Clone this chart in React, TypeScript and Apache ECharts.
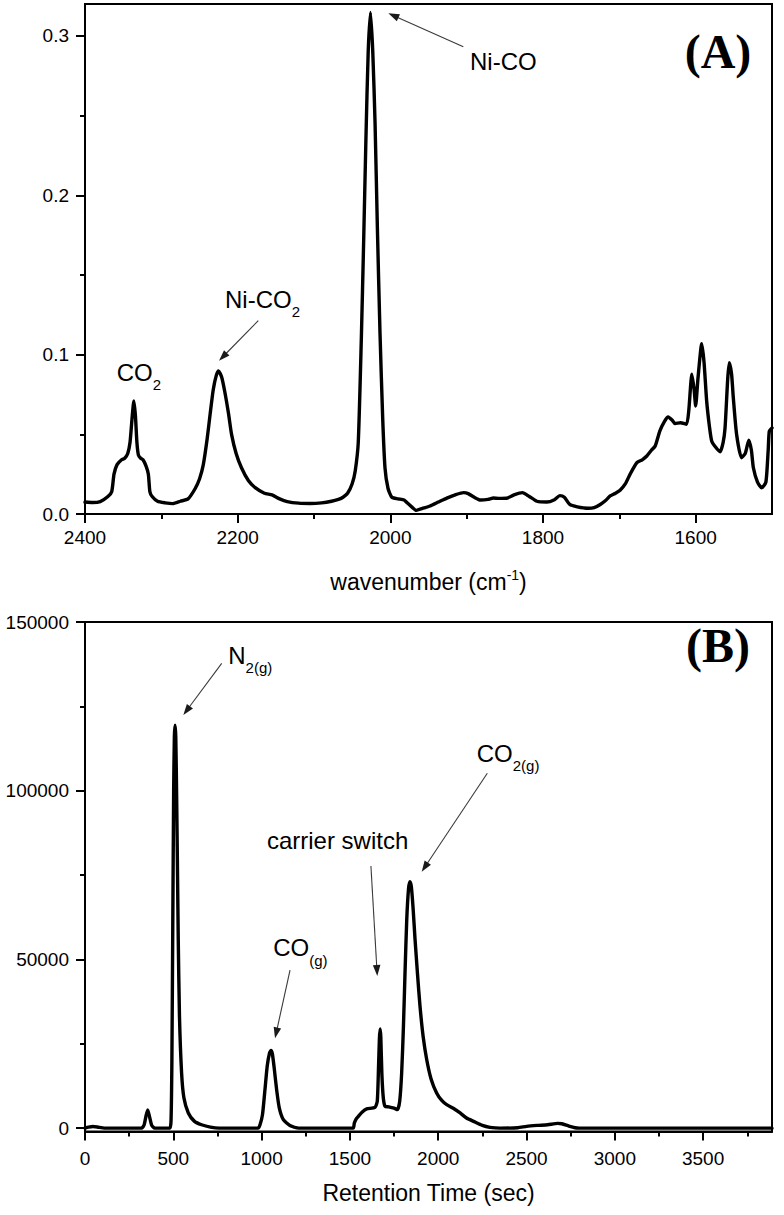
import React, { useEffect, useRef } from 'react';
import * as echarts from 'echarts';

// ---------- Panel A: IR spectrum ----------
const irWavenumber = [
  2400, 2390, 2380, 2370, 2365, 2362, 2358, 2352, 2348, 2344, 2341, 2338, 2336, 2334, 2332, 2330, 2327, 2324, 2320, 2317,
  2315, 2312, 2305, 2295, 2285, 2275, 2265, 2256, 2250, 2245, 2240, 2236, 2232, 2228, 2225, 2221, 2217, 2212, 2208, 2202,
  2195, 2186, 2177, 2165, 2155, 2145, 2135, 2120, 2105, 2090, 2077, 2068, 2062, 2056, 2050, 2046, 2042, 2038, 2035, 2032,
  2029, 2026, 2023, 2020, 2017, 2013.5, 2010, 2007, 2003, 1998, 1990, 1982, 1978, 1972, 1966, 1958, 1948, 1937, 1926, 1915,
  1904, 1898, 1890, 1882, 1872, 1865, 1858, 1848, 1838, 1827, 1818, 1808, 1795, 1785, 1778, 1772, 1765, 1755, 1741, 1733,
  1725, 1718, 1712, 1705, 1699, 1692, 1686, 1677, 1670, 1664, 1658, 1653, 1647, 1641, 1636, 1631, 1627, 1620, 1612, 1609,
  1605, 1602, 1600, 1597, 1592, 1589, 1585.6, 1582, 1579, 1574, 1568, 1564, 1561.5, 1558, 1556, 1553, 1550.7, 1546.4, 1540, 1535,
  1530.4, 1527, 1524.4, 1519, 1513.5, 1508, 1505, 1503.5, 1500,
];
const irAbsorbance = [
  0.0075, 0.0072, 0.0078, 0.011, 0.014, 0.025, 0.031, 0.034, 0.035, 0.038, 0.045, 0.062, 0.071, 0.062, 0.045, 0.037, 0.035, 0.034, 0.030, 0.025,
  0.014, 0.011, 0.008, 0.007, 0.0065, 0.008, 0.0095, 0.0157, 0.022, 0.031, 0.047, 0.063, 0.078, 0.087, 0.0898, 0.086, 0.077, 0.063, 0.050, 0.038,
  0.029, 0.021, 0.0165, 0.013, 0.012, 0.0095, 0.0078, 0.0068, 0.0066, 0.007, 0.008, 0.0092, 0.0105, 0.013, 0.019, 0.027, 0.045, 0.11, 0.17, 0.235,
  0.29, 0.3147, 0.29, 0.245, 0.18, 0.113, 0.06, 0.029, 0.016, 0.0105, 0.0095, 0.0088, 0.007, 0.0045, 0.0023, 0.0035, 0.005, 0.0075, 0.010, 0.012,
  0.0134, 0.0128, 0.0105, 0.0088, 0.0092, 0.010, 0.0098, 0.0099, 0.012, 0.0134, 0.011, 0.008, 0.0075, 0.009, 0.0115, 0.0105, 0.006, 0.0045, 0.0036, 0.004,
  0.006, 0.0085, 0.0113, 0.013, 0.0149, 0.019, 0.0249, 0.0322, 0.034, 0.0364, 0.040, 0.0427, 0.052, 0.058, 0.0609, 0.059, 0.0567, 0.0573, 0.0563, 0.065,
  0.0877, 0.078, 0.0678, 0.085, 0.1069, 0.095, 0.0709, 0.055, 0.0458, 0.042, 0.039, 0.045, 0.054, 0.085, 0.095, 0.088, 0.073, 0.050, 0.0353, 0.038,
  0.0463, 0.04, 0.029, 0.02, 0.0165, 0.02, 0.04, 0.052, 0.054,
];
const irMajorTicks = [1600, 1800, 2000, 2200, 2400];
const irMinorTicks = [1700, 1900, 2100, 2300];
const irYMajorTicks = [0, 0.1, 0.2, 0.3];
const irYMinorTicks = [0.05, 0.15, 0.25];

// ---------- Panel B: GC chromatogram ----------
const gcTime = [
  0, 20, 45, 70, 110, 320, 335, 345, 355, 365, 378, 395, 480, 487, 492, 497, 502, 506, 510, 514,
  519, 524, 528, 535, 547, 560, 585, 620, 660, 710, 760, 980, 991, 1005, 1019, 1032, 1045, 1053, 1061, 1072,
  1085, 1100, 1123, 1160, 1210, 1518, 1525, 1535, 1548, 1570, 1595, 1642, 1655, 1662, 1667, 1671, 1675, 1681, 1689, 1699,
  1720, 1750, 1769, 1782, 1793, 1803, 1812, 1822, 1832, 1840, 1848, 1858, 1869, 1883, 1897, 1915, 1935, 1960, 1991, 2020,
  2048, 2085, 2124, 2160, 2200, 2250, 2293, 2350, 2450, 2501, 2560, 2620, 2676, 2700, 2740, 2775, 2800, 3890,
];
const gcSignal = [
  0, 300, 500, 350, 0, 0, 1000, 3500, 5400, 3500, 800, 0, 0, 2000, 20000, 60000, 100000, 116000, 119400, 116000,
  98000, 75000, 56000, 33000, 16300, 9000, 4500, 2000, 1000, 300, 0, 0, 1000, 4000, 11400, 18500, 22300, 23000, 22000, 17500,
  11400, 6000, 2500, 800, 0, 0, 1500, 2700, 3500, 4800, 5680, 6160, 8000, 18000, 26500, 29400, 27000, 16000, 9000, 6460,
  6300, 5900, 5480, 8000, 16340, 30000, 45940, 62000, 71000, 73060, 71500, 65000, 55800, 45500, 36050, 27000, 20280, 14500, 10420, 8200,
  6960, 5900, 4500, 3000, 2010, 800, 240, 0, 100, 530, 800, 1000, 1400, 1300, 600, 100, 0, 0,
];
const gcMajorTicks = [0, 500, 1000, 1500, 2000, 2500, 3000, 3500];
const gcMinorTicks = [250, 750, 1250, 1750, 2250, 2750, 3250, 3750];
const gcYMajorTicks = [0, 50000, 100000, 150000];
const gcYMinorTicks = [25000, 75000, 125000];

// ---------- annotations (data coordinates) ----------
const irNotes = [
  { text: 'Ni-CO', sub: '', at: [1895.6, 0.2842], tail: [1904.4, 0.2932], tip: [2002.6, 0.3142] },
  { text: 'Ni-CO', sub: '2', at: [2216.6, 0.1349], tail: [2173, 0.1213], tip: [2224.4, 0.0962] },
  { text: 'CO', sub: '2', at: [2358.5, 0.0888] },
];
const gcNotes = [
  { text: 'N', sub: '2(g)', at: [811, 140130], tail: [774, 137760], tip: [557, 122440] },
  { text: 'CO', sub: '(g)', at: [1066, 53530], tail: [1161, 46860], tip: [1076, 26620] },
  { text: 'carrier switch', sub: '', center: true, at: [1430, 85240], tail: [1619, 77680], tip: [1655, 45090] },
  { text: 'CO', sub: '2(g)', at: [2218, 111080], tail: [2278, 105160], tip: [1906.5, 75990] },
];
const panelLabels = [
  { text: '(A)', series: 0, at: [1570.7, 0.2901] },
  { text: '(B)', series: 1, at: [3584, 143180] },
];

const FONT = '"Liberation Sans", Arial, Helvetica, sans-serif';
const SERIF = '"Liberation Serif", "Times New Roman", serif';

function zip(xs: number[], ys: number[]) {
  return xs.map((x, i) => [x, ys[i]]);
}

function majorX(gridIndex: number, min: number, max: number, ticks: number[], inverse: boolean, name: any, nameGap: number, margin: number) {
  return {
    gridIndex,
    type: 'value',
    position: 'bottom',
    min,
    max,
    inverse,
    axisLine: { show: true, onZero: false, lineStyle: { color: '#000', width: 2 } },
    axisTick: { show: true, customValues: ticks, length: 9, lineStyle: { color: '#000', width: 2 } },
    axisLabel: {
      show: true,
      customValues: ticks,
      fontSize: 19,
      color: '#000',
      fontFamily: FONT,
      margin,
      formatter: (v: number) => String(Math.round(v)),
    },
    splitLine: { show: false },
    name,
    nameLocation: 'middle',
    nameGap,
    nameTextStyle: {
      fontSize: 23,
      color: '#000',
      fontFamily: FONT,
      rich: {
        a: { fontSize: 23, lineHeight: 28, fontFamily: FONT, color: '#000' },
        b: { fontSize: 14, lineHeight: 14, verticalAlign: 'top', fontFamily: FONT, color: '#000' },
      },
    },
  };
}
function minorX(gridIndex: number, min: number, max: number, ticks: number[], inverse: boolean) {
  return {
    gridIndex,
    type: 'value',
    position: 'bottom',
    offset: 0,
    min,
    max,
    inverse,
    axisLine: { show: false, onZero: false },
    axisTick: { show: true, customValues: ticks, length: 5, lineStyle: { color: '#000', width: 2 } },
    axisLabel: { show: false },
    splitLine: { show: false },
  };
}
function majorY(gridIndex: number, min: number, max: number, ticks: number[], fmt: (v: number) => string) {
  return {
    gridIndex,
    type: 'value',
    position: 'left',
    min,
    max,
    axisLine: { show: true, onZero: false, lineStyle: { color: '#000', width: 2 } },
    axisTick: { show: true, customValues: ticks, length: 9, lineStyle: { color: '#000', width: 2 } },
    axisLabel: { show: true, customValues: ticks, fontSize: 19, color: '#000', fontFamily: FONT, margin: 16, formatter: fmt },
    splitLine: { show: false },
  };
}
function minorY(gridIndex: number, min: number, max: number, ticks: number[]) {
  return {
    gridIndex,
    type: 'value',
    position: 'left',
    offset: 0,
    min,
    max,
    axisLine: { show: false, onZero: false },
    axisTick: { show: true, customValues: ticks, length: 5, lineStyle: { color: '#000', width: 2 } },
    axisLabel: { show: false },
    splitLine: { show: false },
  };
}

export default function App() {
  const ref = useRef<HTMLDivElement>(null);

  useEffect(() => {
    if (!ref.current) return;
    const chart = echarts.init(ref.current, null, { renderer: 'svg' });

    const option: any = {
      animation: false,
      backgroundColor: '#ffffff',
      grid: [
        { left: 85, right: 12, top: 4, height: 510, show: true, borderColor: '#000', borderWidth: 2, backgroundColor: 'transparent' },
        { left: 85, right: 12, top: 622, height: 509.5, show: true, borderColor: '#000', borderWidth: 2, backgroundColor: 'transparent' },
      ],
      xAxis: [
        majorX(0, 1500, 2400, irMajorTicks, true, '{a|wavenumber (cm}{b|-1}{a|)}', 54, 14),
        minorX(0, 1500, 2400, irMinorTicks, true),
        majorX(1, 0, 3890, gcMajorTicks, false, 'Retention Time (sec)', 50, 17),
        minorX(1, 0, 3890, gcMinorTicks, false),
      ],
      yAxis: [
        majorY(0, 0, 0.32, irYMajorTicks, (v: number) => v.toFixed(1)),
        minorY(0, 0, 0.32, irYMinorTicks),
        majorY(1, -1000, 150000, gcYMajorTicks, (v: number) => String(Math.round(v))),
        minorY(1, -1000, 150000, gcYMinorTicks),
      ],
      series: [
        {
          type: 'line',
          xAxisIndex: 0,
          yAxisIndex: 0,
          data: zip(irWavenumber, irAbsorbance),
          showSymbol: false,
          smooth: 0.2,
          lineStyle: { color: '#000', width: 3.4, join: 'round', cap: 'round' },
          silent: true,
        },
        {
          type: 'line',
          xAxisIndex: 2,
          yAxisIndex: 2,
          data: zip(gcTime, gcSignal),
          showSymbol: false,
          smooth: 0.2,
          lineStyle: { color: '#000', width: 3.4, join: 'round', cap: 'round' },
          silent: true,
        },
      ],
    };
    chart.setOption(option);

    const graphics: any[] = [];
    const addArrow = (a: number[], b: number[]) => {
      const dx = b[0] - a[0];
      const dy = b[1] - a[1];
      const len = Math.sqrt(dx * dx + dy * dy) || 1;
      const ux = dx / len;
      const uy = dy / len;
      const hl = 11;
      const hw = 3.8;
      const bx = b[0] - ux * hl;
      const by = b[1] - uy * hl;
      graphics.push({
        type: 'line',
        silent: true,
        shape: { x1: a[0], y1: a[1], x2: bx + ux * 2, y2: by + uy * 2 },
        style: { stroke: '#3a3a3a', lineWidth: 1.1 },
      });
      graphics.push({
        type: 'polygon',
        silent: true,
        shape: { points: [[b[0], b[1]], [bx - uy * hw, by + ux * hw], [bx + uy * hw, by - ux * hw]] },
        style: { fill: '#1a1a1a', stroke: 'none' },
      });
    };
    const addNote = (seriesIndex: number, n: any) => {
      const p = chart.convertToPixel({ seriesIndex }, n.at) as number[];
      const align = n.center ? 'center' : 'left';
      if (n.sub) {
        graphics.push({
          type: 'text',
          silent: true,
          x: p[0],
          y: p[1],
          style: {
            text: `{m|${n.text}}{s|${n.sub}}`,
            align,
            verticalAlign: 'middle',
            textAlign: align,
            textVerticalAlign: 'middle',
            fill: '#000',
            rich: {
              m: { fontSize: 24, lineHeight: 40, fontFamily: FONT, fill: '#000', color: '#000' },
              s: { fontSize: 15, lineHeight: 15, verticalAlign: 'bottom', fontFamily: FONT, fill: '#000', color: '#000' },
            },
          },
        });
      } else {
        graphics.push({
          type: 'text',
          silent: true,
          x: p[0],
          y: p[1],
          style: {
            text: n.text,
            align,
            verticalAlign: 'middle',
            textAlign: align,
            textVerticalAlign: 'middle',
            fill: '#000',
            fontSize: 24,
            fontFamily: FONT,
          },
        });
      }
      if (n.tail && n.tip) {
        const t = chart.convertToPixel({ seriesIndex }, n.tail) as number[];
        const h = chart.convertToPixel({ seriesIndex }, n.tip) as number[];
        addArrow(t, h);
      }
    };
    irNotes.forEach((n) => addNote(0, n));
    gcNotes.forEach((n) => addNote(1, n));
    panelLabels.forEach((l) => {
      const p = chart.convertToPixel({ seriesIndex: l.series }, l.at) as number[];
      graphics.push({
        type: 'text',
        silent: true,
        x: p[0],
        y: p[1],
        style: {
          text: l.text,
          align: 'center',
          verticalAlign: 'middle',
          textAlign: 'center',
          textVerticalAlign: 'middle',
          fill: '#000',
          fontSize: 48,
          fontWeight: 'bold',
          fontFamily: SERIF,
        },
      });
    });
    chart.setOption({ graphic: graphics });

    return () => {
      chart.dispose();
    };
  }, []);

  return (
    <div
      ref={ref}
      style={{ position: 'absolute', left: 0, top: 0, width: 784, height: 1215, background: '#fff' }}
    />
  );
}
